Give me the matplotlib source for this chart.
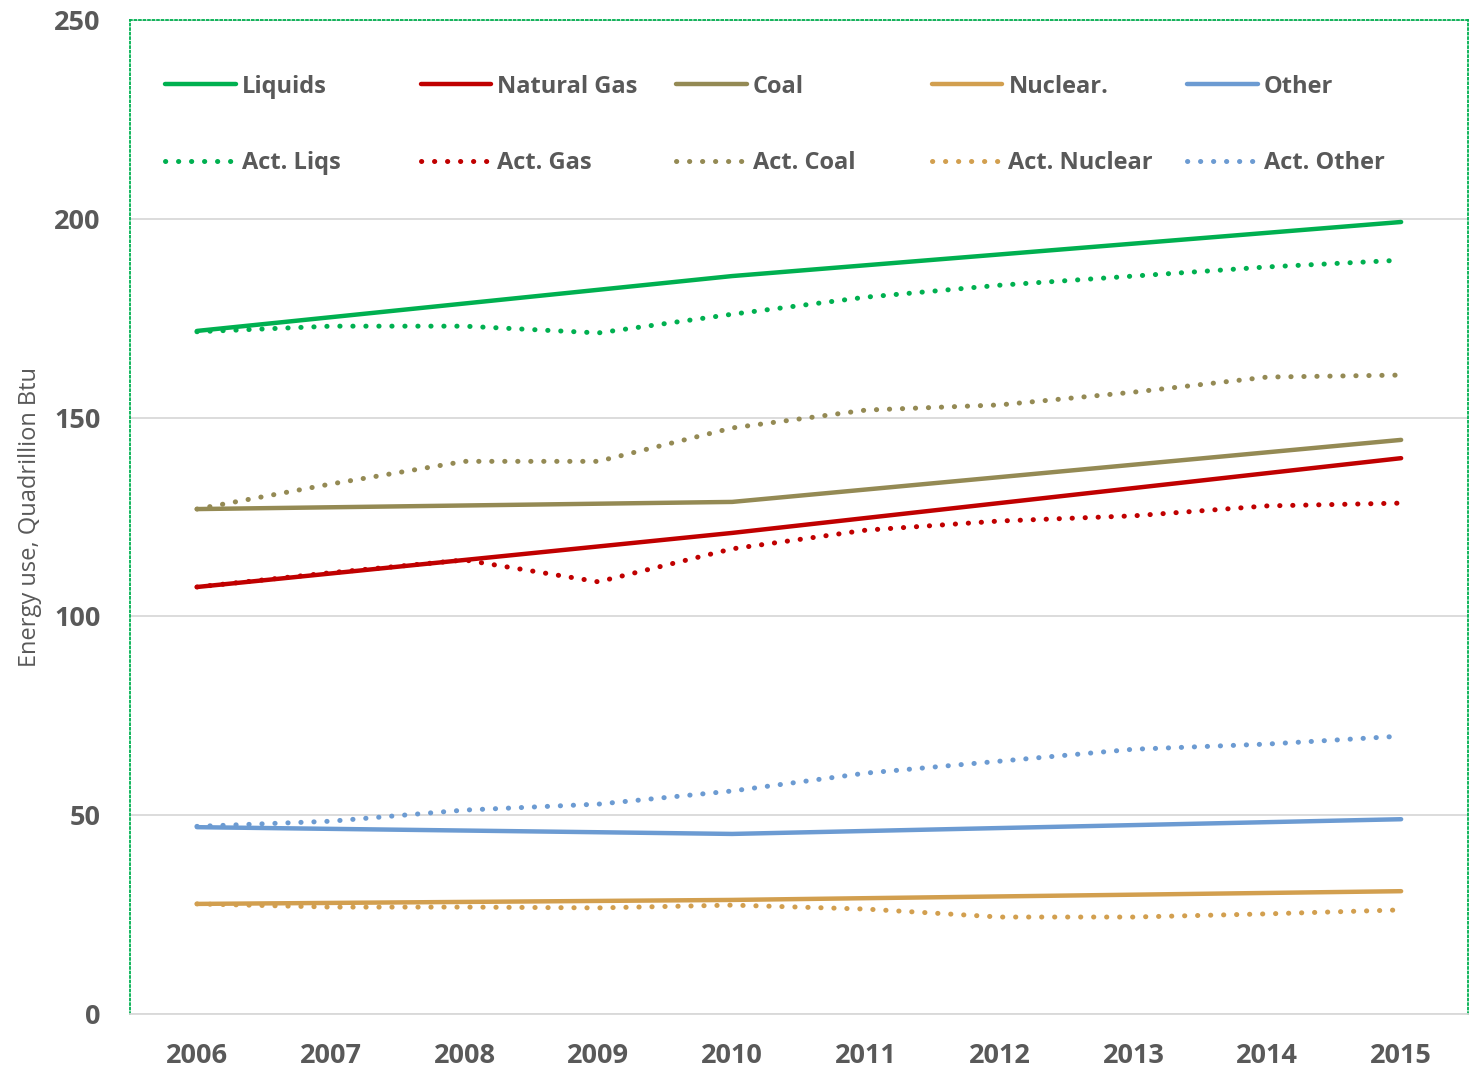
import numpy as np
import matplotlib.pyplot as plt
from matplotlib.legend import Legend

# projection points (2006, 2010, 2015) and actuals per year
proj_years = [2006, 2010, 2015]
act_years = list(range(2006, 2016))

liquids = [171.8, 185.6, 199.2]
natural_gas = [107.4, 121.0, 139.8]
coal = [127.0, 128.8, 144.4]
nuclear = [27.7, 28.7, 30.9]
other = [47.0, 45.3, 49.0]

act_liqs = [171.6, 173.0, 173.0, 171.3, 176.0, 180.3, 183.3, 185.6, 187.9, 189.6]
act_gas = [107.4, 111.0, 114.2, 108.7, 117.0, 121.7, 124.0, 125.3, 127.8, 128.5]
act_coal = [127.0, 133.3, 139.0, 139.0, 147.4, 151.9, 153.2, 156.4, 160.2, 160.7]
act_nuclear = [27.7, 26.9, 26.9, 26.7, 27.4, 26.4, 24.4, 24.4, 25.2, 26.2]
act_other = [47.2, 48.5, 51.3, 52.8, 56.1, 60.6, 63.6, 66.6, 67.9, 69.9]

labels = ["Liquids", "Natural Gas", "Coal", "Nuclear.", "Other"]
act_labels = ["Act. Liqs", "Act. Gas", "Act. Coal", "Act. Nuclear", "Act. Other"]
colors = ["#00B050", "#C00000", "#948A54", "#D29F4F", "#6C9BD2"]

plt.rcParams['font.family'] = ['Open Sans', 'DejaVu Sans']
txt = "#595959"

fig = plt.figure(figsize=(14.76, 10.69), dpi=100)
ax = fig.add_axes([0.0881, 0.0514, 0.9065, 0.9299])

proj = [liquids, natural_gas, coal, nuclear, other]
act = [act_liqs, act_gas, act_coal, act_nuclear, act_other]

pairs = []
for i in range(5):
    h1, = ax.plot(proj_years, proj[i], color=colors[i], lw=3.2,
                  solid_capstyle='round', solid_joinstyle='round',
                  label=labels[i], zorder=3)
    h2, = ax.plot(act_years, act[i], color=colors[i], lw=3.6,
                  linestyle=(0, (0.05, 2.55)), dash_capstyle='round',
                  label=act_labels[i], zorder=3)
    pairs.append((h1, h2))

ax.set_xlim(2005.5, 2015.5)
ax.set_ylim(0, 250)
ax.set_xticks(act_years)
ax.set_yticks([0, 50, 100, 150, 200, 250])
ax.tick_params(length=0, labelsize=19.5, colors=txt)
for lab in ax.get_xticklabels() + ax.get_yticklabels():
    lab.set_fontweight('bold')
ax.tick_params(axis='y', pad=21)
ax.tick_params(axis='x', pad=21)

ax.grid(axis='y', color='#D9D9D9', lw=1.3)
ax.set_axisbelow(True)
for side in ['top', 'left', 'right']:
    ax.spines[side].set_color('#00B050')
    ax.spines[side].set_linestyle((0, (1, 1.5)))
    ax.spines[side].set_linewidth(1.3)
ax.spines['bottom'].set_color('#D9D9D9')
ax.spines['bottom'].set_linewidth(1.3)

ax.set_ylabel("Energy use, Quadrillion Btu", fontsize=17, color=txt)
ax.yaxis.set_label_coords(-0.066, 0.5)

# one small legend per column so the columns sit evenly spaced
col_x = [0.012, 0.203, 0.394, 0.585, 0.776]
for i, (h1, h2) in enumerate(pairs):
    leg = Legend(ax, [h1, h2], [labels[i], act_labels[i]], loc='upper left',
                 bbox_to_anchor=(col_x[i], 0.964), frameon=False,
                 handlelength=3.0, handletextpad=0.25, labelspacing=2.22,
                 borderpad=0.3, prop={'size': 17, 'weight': 'bold'})
    for t in leg.get_texts():
        t.set_color(txt)
    ax.add_artist(leg)

fig.savefig("out.png", dpi=100)
